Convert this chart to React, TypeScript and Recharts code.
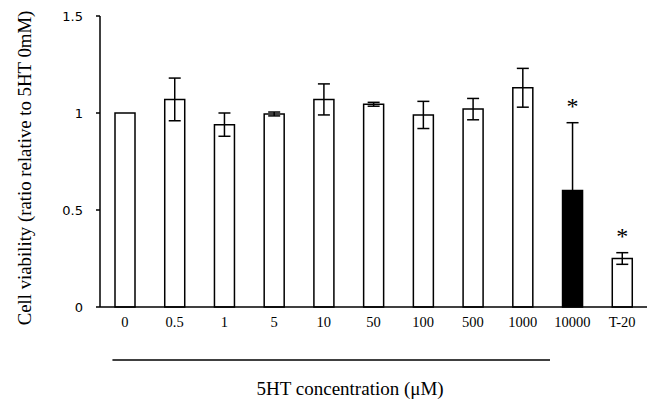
import React from 'react';
import { BarChart, Bar, XAxis, YAxis, ErrorBar, Cell, LabelList } from 'recharts';

// 5HT concentrations (µM) plus the T-20 control
const categories = ['0', '0.5', '1', '5', '10', '50', '100', '500', '1000', '10000', 'T-20'];
const viability = [1.0, 1.07, 0.94, 0.995, 1.07, 1.045, 0.99, 1.02, 1.13, 0.6, 0.25];
const sd = [0, 0.11, 0.06, 0.01, 0.08, 0.01, 0.07, 0.055, 0.1, 0.35, 0.03];
const significant = [false, false, false, false, false, false, false, false, false, true, true];
const filled = [false, false, false, false, false, false, false, false, false, true, false];
const yTicks = [0, 0.5, 1, 1.5];

const data = categories.map((c, i) => ({
  conc: c,
  value: viability[i],
  err: sd[i],
  star: significant[i] ? '*' : '',
}));

const serif = '"Liberation Serif", "Times New Roman", serif';

const StarLabel = (props: any) => {
  const { x, y, width, height, index } = props;
  const d = data[index];
  if (!d || !d.star) return null;
  const pxPerUnit = height / d.value;
  const top = y - d.err * pxPerUnit;
  return (
    <text x={x + width / 2} y={top - 9} textAnchor="middle" fontFamily={serif} fontSize={24} fill="#000">
      *
    </text>
  );
};

const XTitle = (props: any) => {
  const { viewBox } = props;
  const step = viewBox.width / categories.length;
  const x1 = viewBox.x + step * 0.25;
  const x2 = viewBox.x + step * 9.05;
  return (
    <g>
      <line x1={x1} x2={x2} y1={viewBox.y + 53} y2={viewBox.y + 53} stroke="#000" strokeWidth={1.5} />
      <text x={viewBox.x + step * 5.03} y={viewBox.y + 88} textAnchor="middle" fontFamily={serif} fontSize={19} fill="#000">
        5HT concentration (μM)
      </text>
    </g>
  );
};

const YTitle = () => (
  <text x={0} y={0} transform="translate(31,168) rotate(-90)" textAnchor="middle" fontFamily={serif} fontSize={18.8} fill="#000">
    Cell viability (ratio relative to 5HT 0mM)
  </text>
);

export default function App() {
  return (
    <div style={{ position: 'absolute', left: 0, top: 0, width: 649, height: 401, background: '#fff' }}>
      <BarChart width={649} height={401} data={data} margin={{ top: 16, right: 2, left: 0, bottom: 64 }}>
        <XAxis
          dataKey="conc"
          height={30}
          tickLine={false}
          axisLine={{ stroke: '#000', strokeWidth: 1.5 }}
          tick={{ fontFamily: serif, fontSize: 14.5, fill: '#000' }}
          tickMargin={4}
          interval={0}
          label={<XTitle />}
        />
        <YAxis
          width={100}
          domain={[0, 1.5]}
          ticks={yTicks}
          tickFormatter={(v: number) => String(v)}
          tickSize={4}
          tickMargin={13}
          axisLine={{ stroke: '#000', strokeWidth: 1.5 }}
          tickLine={{ stroke: '#000', strokeWidth: 1.5 }}
          tick={{ fontFamily: '"DejaVu Sans", Verdana, sans-serif', fontSize: 13, fill: '#000' }}
          label={<YTitle />}
        />
        <Bar dataKey="value" barSize={20} stroke="#000" strokeWidth={1.5} isAnimationActive={false}>
          {data.map((d, i) => (
            <Cell key={d.conc} fill={filled[i] ? '#000' : '#fff'} />
          ))}
          <ErrorBar dataKey="err" width={6} stroke="#000" strokeWidth={1.5} />
          <LabelList dataKey="star" content={<StarLabel />} />
        </Bar>
      </BarChart>
    </div>
  );
}
